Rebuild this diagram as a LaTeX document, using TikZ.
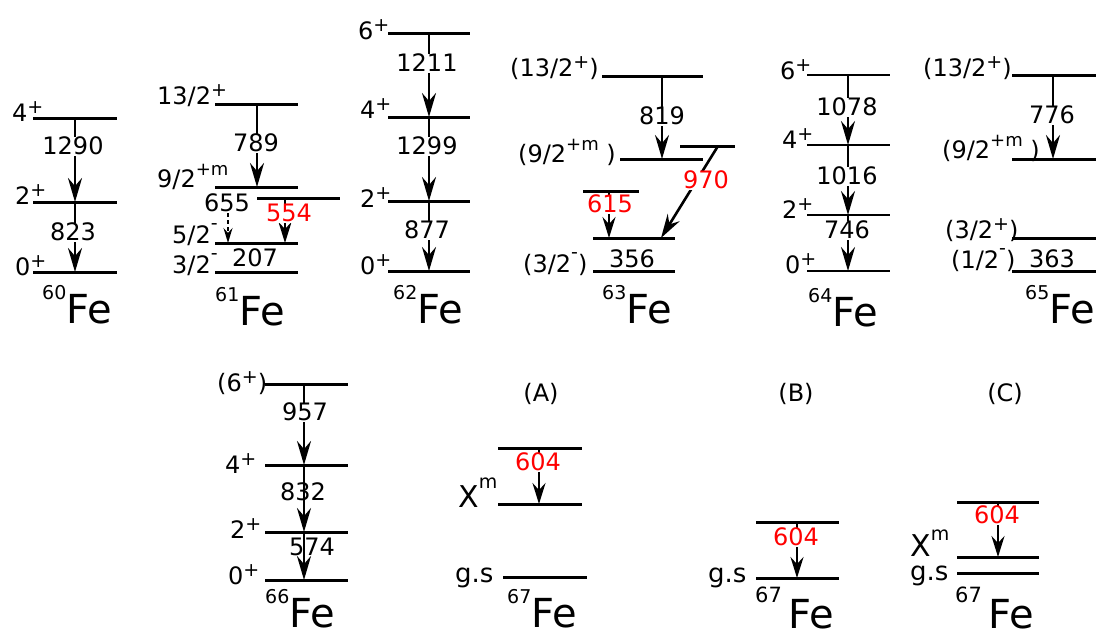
\documentclass[tikz,border=0pt]{standalone}
\usepackage{fontspec}
\setmainfont{DejaVu Sans}
\usetikzlibrary{arrows.meta}
\newcommand\hsup[1]{\raisebox{12pt}{\fontsize{18}{18}\selectfont #1}}
\newcommand\spp{\raisebox{8pt}{\fontsize{19}{19}\selectfont +}}
\newcommand\smn{\raisebox{14pt}{\fontsize{19}{19}\selectfont -}}
\newcommand\nuc[2]{\raisebox{24pt}{\fontsize{19}{19}\selectfont #1}{\fontsize{40}{40}\selectfont #2}}
\newcommand\nucsep[2]{\raisebox{26pt}{\fontsize{21}{21}\selectfont #1}\hspace{7pt}{\fontsize{40}{40}\selectfont #2}}
\begin{document}
\begin{tikzpicture}[x=1pt,y=-1pt,
  lev/.style={line width=3pt},
  levthin/.style={line width=1.4pt},
  arr/.style={line width=2.6pt,-{Stealth[length=24pt,width=14pt,inset=8pt]}},
  sarr/.style={line width=2.3pt,-{Stealth[length=21pt,width=13pt,inset=7pt]}},
  darr/.style={line width=1.6pt,dash pattern=on 4pt off 3pt,-{Stealth[length=15pt,width=9pt,inset=5pt]}},
  num/.style={font=\fontsize{24}{24}\selectfont,inner sep=1pt,text height=17pt,text depth=0pt},
  numw/.style={num,fill=white},
  rednum/.style={numw,text=red},
  spin/.style={font=\fontsize{24}{24}\selectfont,inner sep=0pt,text height=17pt,text depth=0pt,anchor=west},
  nucl/.style={inner sep=0pt,anchor=base west},
  big/.style={inner sep=0pt,anchor=base west}]
\useasboundingbox (0,0) rectangle (1096,630);

% ---------------- 60Fe
\draw[lev] (33,118) coordinate (a4) -- (117,118);
\draw[lev] (33,202) coordinate (a2) -- (117,202);
\draw[lev] (33,272) coordinate (a0) -- (117,272);
\draw[arr] (75,0 |- a4) -- (75,0 |- a2);
\draw[arr] (75,0 |- a2) -- (75,0 |- a0);
\node[numw] (t1290) at (73,146) {1290};
\node[numw] (t823) at (73,232) {823};
\node[spin] (s60a) at (12,113) {4\spp};
\node[spin] (s60b) at (15,196) {2\spp};
\node[spin] (s60c) at (15,267) {0\spp};
\node[nucl] (n60) at (42,323) {\nuc{60}{Fe}};

% ---------------- 61Fe
\draw[lev] (215,104) coordinate (b13) -- (298,104);
\draw[lev] (215,187) coordinate (b9) -- (298,187);
\draw[lev] (257,198) coordinate (b55) -- (340,198);
\draw[lev] (215,243) coordinate (b5) -- (298,243);
\draw[lev] (215,272) coordinate (b3) -- (298,272);
\coordinate (b9d) at (228,213);
\draw[arr] (257,0 |- b13) -- (257,0 |- b9);
\draw[darr] (b9d) -- (228,0 |- b5);
\draw[sarr] (285,0 |- b55) -- (285,0 |- b5);
\node[numw] (t789) at (256,143) {789};
\node[num] (t655) at (227,203) {655};
\node[rednum] (t554) at (289,213) {554};
\node[num] (t207) at (255,258) {207};
\node[spin] (s61a) at (157,96) {13/2\spp};
\node[spin] (s61b) at (157,179) {9/2\hsup{+m}};
\node[spin] (s61c) at (172,235) {5/2\smn};
\node[spin] (s61d) at (172,265) {3/2\smn};
\node[nucl] (n61) at (215,325) {\nuc{61}{Fe}};

% ---------------- 62Fe
\draw[lev] (388,33) coordinate (c6) -- (470,33);
\draw[lev] (388,117) coordinate (c4) -- (470,117);
\draw[lev] (388,201) coordinate (c2) -- (470,201);
\draw[lev] (388,271) coordinate (c0) -- (470,271);
\draw[arr] (429,0 |- c6) -- (429,0 |- c4);
\draw[arr] (429,0 |- c4) -- (429,0 |- c2);
\draw[arr] (429,0 |- c2) -- (429,0 |- c0);
\node[numw] (t1211) at (427,63) {1211};
\node[numw] (t1299) at (427,146) {1299};
\node[numw] (t877) at (427,230) {877};
\node[spin] (s62a) at (358,31) {6\spp};
\node[spin] (s62b) at (360,110) {4\spp};
\node[spin] (s62c) at (360,199) {2\spp};
\node[spin] (s62d) at (360,266) {0\spp};
\node[nucl] (n62) at (393,323) {\nuc{62}{Fe}};

% ---------------- 63Fe
\draw[lev] (602,76) coordinate (d13) -- (703,76);
\draw[lev] (620,159) coordinate (d9) -- (703,159);
\draw[lev] (680,146) -- (735,146);
\coordinate (d97) at (718,146);
\draw[lev] (583,191) coordinate (d61) -- (639,191);
\draw[lev] (593,238) coordinate (d35) -- (675,238);
\draw[lev] (593,271) coordinate (d3) -- (675,271);
\coordinate (d35e) at (661,238);
\draw[arr] (662,0 |- d13) -- (662,0 |- d9);
\draw[sarr] (609,0 |- d61) -- (609,0 |- d35);
\draw[arr] (d97) -- (d35e);
\node[numw] (t819) at (662,116) {819};
\node[rednum] (t970) at (706,180) {970};
\node[rednum] (t615) at (610,204) {615};
\node[num] (t356) at (632,259) {356};
\node[spin] (s63a) at (510,68) {(13/2\spp)};
\node[spin] (s63b) at (518,154) {(9/2\hsup{+m} )};
\node[spin] (s63c) at (523,264) {(3/2\smn)};
\node[nucl] (n63) at (602,323) {\nuc{63}{Fe}};

% ---------------- 64Fe
\draw[levthin] (807,75) coordinate (e6) -- (890,75);
\draw[levthin] (807,145) coordinate (e4) -- (890,145);
\draw[levthin] (807,215) coordinate (e2) -- (890,215);
\draw[levthin] (807,271) coordinate (e0) -- (890,271);
\draw[arr] (848,0 |- e6) -- (848,0 |- e4);
\draw[arr] (848,0 |- e4) -- (848,0 |- e2);
\draw[arr] (848,0 |- e2) -- (848,0 |- e0);
\node[numw] (t1078) at (847,107) {1078};
\node[numw] (t1016) at (847,176) {1016};
\node[numw] (t746) at (847,230) {746};
\node[spin] (s64a) at (780,71) {6\spp};
\node[spin] (s64b) at (782,140) {4\spp};
\node[spin] (s64c) at (782,210) {2\spp};
\node[spin] (s64d) at (785,265) {0\spp};
\node[nucl] (n64) at (808,326) {\nuc{64}{Fe}};

% ---------------- 65Fe
\draw[lev] (1012,75) coordinate (f13) -- (1096,75);
\draw[lev] (1012,159) coordinate (f9) -- (1096,159);
\draw[lev] (1012,238) coordinate (f3) -- (1096,238);
\draw[lev] (1012,271) coordinate (f1) -- (1096,271);
\draw[arr] (1053,0 |- f13) -- (1053,0 |- f9);
\node[numw] (t776) at (1052,115) {776};
\node[num] (t363) at (1052,259) {363};
\node[spin] (s65a) at (923,68) {(13/2\spp)};
\node[spin] (s65b) at (942,150) {(9/2\hsup{+m} )};
\node[spin] (s65c) at (945,230) {(3/2\spp)};
\node[spin] (s65d) at (951,260) {(1/2\smn)};
\node[nucl] (n65) at (1025,323) {\nuc{65}{Fe}};

% ---------------- 66Fe
\draw[lev] (265,384) coordinate (g6) -- (348,384);
\draw[lev] (265,465) coordinate (g4) -- (348,465);
\draw[lev] (265,532) coordinate (g2) -- (348,532);
\draw[lev] (265,580) coordinate (g0) -- (348,580);
\draw[arr] (304,0 |- g6) -- (304,0 |- g4);
\draw[arr] (304,0 |- g4) -- (304,0 |- g2);
\draw[arr] (304,0 |- g2) -- (304,0 |- g0);
\node[numw] (t957) at (305,412) {957};
\node[num] (t832) at (303,492) {832};
\node[num] (t574) at (312,547) {574};
\node[spin] (s66a) at (217,383) {(6\spp)};
\node[spin] (s66b) at (225,465) {4\spp};
\node[spin] (s66c) at (230,530) {2\spp};
\node[spin] (s66d) at (228,576) {0\spp};
\node[nucl] (n66) at (265,627) {\nuc{66}{Fe}};

% ---------------- 67Fe (A)
\node[num] (pA) at (541,393) {(A)};
\draw[lev] (498,448) coordinate (hA1) -- (582,448);
\draw[lev] (498,504) coordinate (hA2) -- (582,504);
\draw[lev] (503,577) coordinate (hA0) -- (587,577);
\draw[sarr] (539,0 |- hA1) -- (539,0 |- hA2);
\node[rednum] (tA) at (538,462) {604};
\node[big] (xA) at (458,507) {\fontsize{30}{30}\selectfont X\raisebox{19pt}{\fontsize{19}{19}\selectfont m}};
\node[big] (gA) at (455,582) {\fontsize{26}{26}\selectfont g.s};
\node[nucl] (nA) at (507,627) {\nuc{67}{Fe}};

% ---------------- 67Fe (B)
\node[num] (pB) at (796,393) {(B)};
\draw[lev] (756,522) coordinate (hB1) -- (839,522);
\draw[lev] (756,578) coordinate (hB0) -- (839,578);
\draw[sarr] (797,0 |- hB1) -- (797,0 |- hB0);
\node[rednum] (tB) at (796,537) {604};
\node[big] (gB) at (708,582) {\fontsize{26}{26}\selectfont g.s};
\node[nucl] (nB) at (755,628) {\nucsep{67}{Fe}};

% ---------------- 67Fe (C)
\node[num] (pC) at (1005,393) {(C)};
\draw[lev] (957,502) coordinate (hC1) -- (1039,502);
\draw[lev] (957,557) coordinate (hC2) -- (1039,557);
\draw[lev] (957,573) coordinate (hC0) -- (1039,573);
\draw[sarr] (998,0 |- hC1) -- (998,0 |- hC2);
\node[rednum] (tC) at (997,515) {604};
\node[big] (xC) at (910,556) {\fontsize{30}{30}\selectfont X\raisebox{16pt}{\fontsize{19}{19}\selectfont m}};
\node[big] (gC) at (910,580) {\fontsize{26}{26}\selectfont g.s};
\node[nucl] (nC) at (955,628) {\nucsep{67}{Fe}};
\end{tikzpicture}
\end{document}
